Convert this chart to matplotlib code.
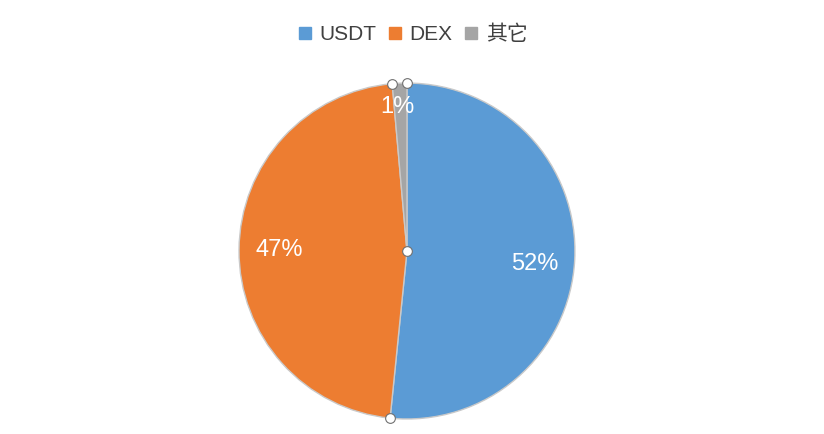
import numpy as np
import matplotlib
matplotlib.use("Agg")
import matplotlib.pyplot as plt
from matplotlib.lines import Line2D

plt.rcParams['font.family'] = ['Liberation Sans', 'Noto Sans CJK SC']

labels = ['USDT', 'DEX', '其它']
shares = [51.6, 47.0, 1.4]
colors = ['#5B9BD5', '#ED7D31', '#A5A5A5']

fig = plt.figure(figsize=(8.24, 4.34), dpi=100)
ax = fig.add_axes([0.290, 0.0346, 0.4078, 0.774])

wedges, texts, autotexts = ax.pie(
    shares, colors=colors, startangle=90, counterclock=False,
    autopct='%.0f%%', pctdistance=0.76,
    wedgeprops=dict(edgecolor='#c9c9c9', linewidth=1.0),
    textprops=dict(color='white', fontsize=17))

# the tiny slice label sits further out
small = wedges[2]
mid = np.deg2rad((small.theta1 + small.theta2) / 2)
autotexts[2].set_position((0.86 * np.cos(mid) - 0.02, 0.86 * np.sin(mid)))
autotexts[0].set_y(autotexts[0].get_position()[1] - 0.04)

# selection handles on slice boundaries
hx, hy = [0], [0]
for w in wedges:
    t = np.deg2rad(w.theta1)
    hx.append(np.cos(t))
    hy.append(np.sin(t))
ax.plot(hx, hy, 'o', ms=7, mfc='white', mec='#707070', mew=0.8, ls='none',
        clip_on=False, zorder=5)
ax.set_xlim(-1, 1)
ax.set_ylim(-1, 1)
ax.set_aspect('equal')

handles = [Line2D([], [], marker='s', ls='none', ms=8, mfc=c, mec=c) for c in colors]
fig.legend(handles, labels, loc='center', bbox_to_anchor=(0.5, 0.92), ncol=3,
           frameon=False, fontsize=15, handletextpad=0.3, columnspacing=0.5,
           handlelength=0.8, labelcolor='#404040')

fig.savefig('out.png', dpi=100)
